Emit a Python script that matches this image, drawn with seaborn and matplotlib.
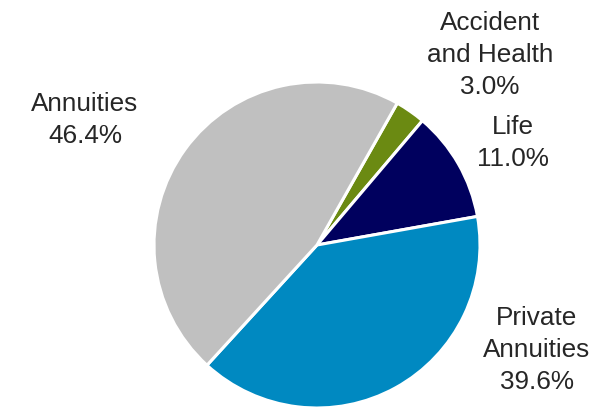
import matplotlib
matplotlib.use("Agg")
import matplotlib.pyplot as plt
import seaborn as sns

sns.set_theme(style="white")
plt.rcParams['font.family'] = ['Liberation Sans', 'DejaVu Sans']

categories = ["Accident\nand Health", "Life", "Private\nAnnuities", "Annuities"]
values = [3.0, 11.0, 39.6, 46.4]
colors = ["#6b8a12", "#00005e", "#0089c1", "#c0c0c0"]

W, H = 595, 407
fig = plt.figure(figsize=(W / 100, H / 100), dpi=100)
cx, cy, r = 317, 245, 163
ax = fig.add_axes([(cx - r) / W, (H - cy - r) / H, 2 * r / W, 2 * r / H])

ax.pie(values, colors=colors, startangle=60.5, counterclock=False,
       wedgeprops=dict(edgecolor="white", linewidth=2.2))
ax.set_xlim(-1, 1)
ax.set_ylim(-1, 1)
ax.set_aspect("equal")
ax.axis("off")

label_pos = [(490, 55), (513, 143), (537, 350), (85, 120)]
for cat, v, (px, py) in zip(categories, values, label_pos):
    x = (px - cx) / r
    y = (cy - py) / r
    ax.text(x, y, f"{cat}\n{v:.1f}%", ha="center", va="center",
            fontsize=18.8, color="#262626", linespacing=1.44, clip_on=False)

fig.savefig("out.png", dpi=100)
